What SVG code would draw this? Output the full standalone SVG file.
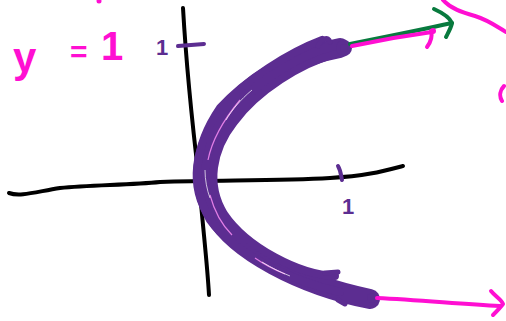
<svg xmlns="http://www.w3.org/2000/svg" width="506" height="321" viewBox="0 0 506 321">
<style>
.ax{fill:none;stroke:#000;stroke-width:4;stroke-linecap:round;stroke-linejoin:round}
.pu{fill:none;stroke:#5c2d91;stroke-linecap:round;stroke-linejoin:round}
.pk{fill:none;stroke:#ff0fd2;stroke-width:4;stroke-linecap:round;stroke-linejoin:round}
.gr{fill:none;stroke:#087a3e;stroke-width:4;stroke-linecap:round;stroke-linejoin:round}
.hand{font-family:"Liberation Sans",Arial,sans-serif}
</style>
<rect width="506" height="321" fill="#fff"/>
<g id="axes">
<path class="ax" d="M183,8 C186,60 193,130 199,180 C203,230 207,260 209,295"/>
<path class="ax" d="M9,193 C20,197 35,192 60,188 C90,185 130,185 160,182 C220,180 280,181 330,178 C365,176 380,172 403,166"/>
</g>
<g id="ticks">
<path class="pu" stroke-width="4" d="M178,46 L204,44"/>
<path class="pu" stroke-width="4" d="M338,166 C341,171 341,176 342,180"/>
<text class="hand" x="156" y="55" font-size="22" font-weight="bold" fill="#5c2d91">1</text>
<text class="hand" x="342" y="214" font-size="22" font-weight="bold" fill="#5c2d91">1</text>
</g>
<g id="label">
<text class="hand" fill="#ff0fd2" font-weight="bold"><tspan x="13" y="72" font-size="42">y</tspan><tspan x="70" y="62" font-size="30">=</tspan><tspan x="101" y="60" font-size="40">1</tspan></text>
<circle cx="99" cy="1" r="2.5" fill="#ff0fd2"/>
</g>
<g id="curve">
<path class="pu" stroke-width="20" d="M340,48 C300,55 250,80 225,115 C200,150 195,185 215,215 C235,250 300,285 370,299"/>
<path class="pu" stroke-width="8" d="M322,40 C290,52 245,80 220,108 C194,146 190,185 210,220 C235,255 295,282 340,292"/>
<path class="pu" stroke-width="8" d="M335,54 C300,64 258,90 234,122 C212,150 206,185 224,214 C247,248 300,275 335,276"/>
<path fill="none" stroke="#e27ee6" stroke-width="1.2" d="M240,100 C225,118 212,140 208,160 M210,195 C214,210 222,225 232,235 M255,258 C265,265 275,270 285,274"/>
<path fill="none" stroke="#ffffff" stroke-width="1" opacity="0.7" d="M252,90 C240,100 232,110 226,120 M205,170 C205,180 207,190 210,198 M262,262 C272,268 280,272 290,276"/>
<path class="pu" stroke-width="5" d="M318,46 C322,38 328,36 330,42"/>
<circle cx="344" cy="48" r="6" fill="none" stroke="#5c2d91" stroke-width="4"/>
<path class="pu" stroke-width="5" d="M325,273 L338,272 M338,300 L345,304"/>
<circle cx="372" cy="298" r="5" fill="#5c2d91"/>
</g>
<g id="connectors">
<path class="gr" d="M350,44 C380,38 420,30 452,23"/>
<path class="gr" d="M434,9 C445,14 450,18 452,23 C451,28 448,33 446,37"/>
<path class="pk" d="M352,46 C380,40 410,35 432,32"/>
<path class="pk" d="M431,31 C433,38 430,43 427,47"/>
<circle cx="433" cy="31" r="3" fill="#ff0fd2"/>
<path class="pk" d="M377,298 C420,300 460,304 500,306"/>
<path class="pk" d="M491,291 C495,296 502,300 503,304 C500,308 496,312 493,315"/>
<path class="pk" d="M443,0 C450,8 460,12 475,16 C488,20 496,26 506,32"/>
<path class="pk" d="M504,86 C500,90 499,96 502,101"/>
</g>
</svg>
